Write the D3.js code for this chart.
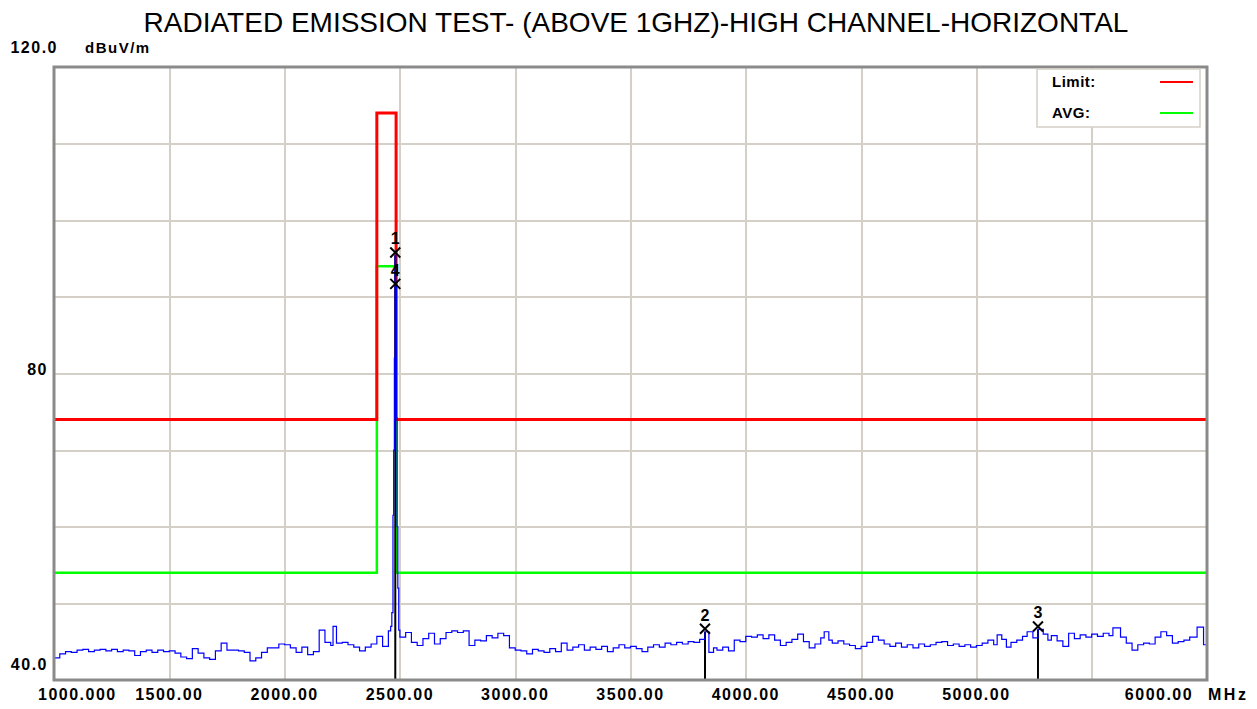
<!DOCTYPE html>
<html>
  <head>
    <meta charset="utf-8">
    <script type="text/javascript" src="https://cdn.jsdelivr.net/npm/d3@7"></script>
    <style type="text/css">
      body {
        margin: 0;
        background: #ffffff;
      }
      .title {
        font-family: "Liberation Sans", Arial, sans-serif;
        font-size: 28px;
      }
      .lbl {
        font-family: "Liberation Sans", Arial, sans-serif;
        font-weight: bold;
        font-size: 16px;
        letter-spacing: 1.5px;
        fill: #000000;
      }
      .grid line {
        stroke: #d4d0c8;
        stroke-width: 2px;
        shape-rendering: crispEdges;
      }
      .grid path {
        display: none;
      }
    </style>
  </head>
  <body>
    <script type="text/javascript">
      // x tick values and labels (MHz)
      var xTicks = [1000, 1500, 2000, 2500, 3000, 3500, 4000, 4500, 5000, 6000];
      var xTickLabels = ["1000.000", "1500.00", "2000.00", "2500.00", "3000.00", "3500.00", "4000.00", "4500.00", "5000.00", "6000.00"];

      // y labels (dBuV/m)
      var yTicks = [120, 80, 40];
      var yTickLabels = ["120.0", "80", "40.0"];

      // limit lines
      var limitFreq = [1000, 2400, 2400, 2483.5, 2483.5, 6000];
      var limitPeak = [74, 74, 114, 114, 74, 74];
      var limitAvg = [54, 54, 94, 94, 54, 54];

      // measured trace
      var traceFreq = [1000, 1025, 1050, 1075, 1100, 1125, 1150, 1175, 1200, 1225, 1250, 1275, 1300, 1325, 1350, 1375, 1400, 1425, 1450, 1475, 1500,
        1525, 1550, 1575, 1600, 1625, 1650, 1675, 1700, 1725, 1750, 1775, 1800, 1825, 1850, 1875, 1900, 1925, 1950, 1975, 2000,
        2025, 2050, 2075, 2100, 2125, 2150, 2175, 2200, 2210, 2225, 2250, 2275, 2300, 2325, 2350, 2375, 2400, 2425, 2450, 2460, 2465, 2470, 2473, 2476, 2479, 2482, 2485, 2488, 2491, 2495,
        2500, 2525, 2550, 2575, 2600, 2625, 2650, 2675, 2700, 2725, 2750, 2775, 2800, 2825, 2850, 2875, 2900, 2925, 2950, 2975, 3000,
        3025, 3050, 3075, 3100, 3125, 3150, 3175, 3200, 3225, 3250, 3275, 3300, 3325, 3350, 3375, 3400, 3425, 3450, 3475, 3500,
        3525, 3550, 3575, 3600, 3625, 3650, 3675, 3700, 3725, 3750, 3775, 3800, 3823, 3840, 3860, 3875, 3900, 3925, 3950, 3975, 4000,
        4025, 4050, 4075, 4100, 4125, 4150, 4175, 4200, 4225, 4250, 4275, 4300, 4325, 4340, 4360, 4375, 4400, 4425, 4450, 4475, 4500,
        4525, 4550, 4575, 4600, 4625, 4650, 4675, 4700, 4725, 4750, 4775, 4800, 4825, 4850, 4875, 4900, 4925, 4950, 4975, 5000,
        5025, 5050, 5075, 5090, 5110, 5130, 5150, 5175, 5200, 5220, 5245, 5267, 5290, 5310, 5325, 5350, 5375, 5400, 5425, 5450, 5475, 5500,
        5525, 5550, 5575, 5592, 5625, 5650, 5675, 5700, 5725, 5750, 5775, 5800, 5825, 5850, 5875, 5900, 5925, 5957, 5985, 6000];
      var traceLevel = [42.9, 43.4, 43.7, 43.6, 43.9, 44.0, 43.7, 43.9, 44.0, 43.8, 44.0, 43.7, 43.9, 43.8, 43.2, 43.7, 43.9, 43.6, 43.9, 43.7, 43.8,
        43.5, 43.0, 42.8, 44.1, 43.5, 42.9, 42.7, 43.8, 44.8, 43.9, 43.9, 43.8, 43.6, 42.5, 42.9, 43.6, 44.2, 44.2, 44.7, 44.6,
        44.2, 43.6, 44.3, 43.3, 43.7, 46.5, 44.9, 44.5, 47.0, 44.8, 44.9, 44.6, 44.3, 43.8, 44.3, 44.7, 45.7, 44.4, 46.4, 47.0, 48.8, 61.5, 70.0, 82.0, 95.4, 91.3, 74.2, 60.0, 52.0, 46.5,
        45.6, 46.2, 44.9, 44.5, 45.4, 46.1, 44.7, 45.4, 46.2, 46.4, 46.2, 46.4, 44.5, 45.2, 45.1, 45.8, 45.5, 46.1, 45.8, 44.2, 43.9,
        43.8, 43.4, 44.0, 43.8, 43.6, 44.1, 43.7, 44.8, 43.9, 44.3, 44.6, 43.9, 44.3, 44.0, 44.4, 43.7, 44.2, 44.6, 44.2, 44.4,
        44.1, 43.7, 44.3, 44.6, 44.3, 44.8, 44.6, 44.9, 44.7, 45.0, 44.9, 45.3, 46.3, 43.6, 44.2, 43.9, 44.3, 43.8, 45.2, 45.0, 45.7,
        45.6, 45.9, 45.4, 45.9, 45.2, 44.5, 44.9, 45.3, 46.0, 45.0, 44.2, 44.7, 45.5, 46.3, 45.2, 44.8, 45.1, 44.7, 44.5, 44.1, 44.4,
        44.9, 45.7, 45.2, 44.7, 44.4, 44.8, 44.3, 44.6, 44.2, 44.7, 44.4, 44.6, 44.9, 45.0, 44.5, 44.7, 44.4, 44.6, 44.3, 44.5,
        44.8, 45.2, 44.6, 45.9, 45.3, 44.3, 44.9, 45.2, 45.7, 46.3, 45.5, 46.6, 46.0, 45.2, 45.8, 45.1, 44.4, 46.1, 45.4, 45.9, 45.6, 46.0,
        45.7, 46.1, 45.8, 46.8, 45.6, 44.8, 43.9, 44.6, 44.8, 44.7, 45.6, 46.3, 45.8, 44.8, 45.0, 45.2, 45.6, 46.9, 44.6, 44.8];

      // markers
      var markerNo = ["1", "2", "3", "4"];
      var markerFreq = [2480, 3823, 5267, 2480];
      var markerLevel = [95.4, 46.3, 46.6, 91.3];

      // legend
      var legendNames = ["Limit:", "AVG:"];
      var legendColors = ["#ff0000", "#00ff00"];

      // sizes
      var svgWidth = 1257;
      var svgHeight = 709;
      var plotLeft = 54, plotRight = 1207, plotTop = 67, plotBottom = 680;

      var svg = d3.select("body")
        .append("svg")
        .attr("width", svgWidth)
        .attr("height", svgHeight);

      var xScale = d3.scaleLinear()
        .domain([1000, 6000])
        .range([plotLeft, plotRight]);

      var yScale = d3.scaleLinear()
        .domain([40, 120])
        .range([plotBottom, plotTop]);

      // grid lines
      svg.append("g")
        .attr("class", "grid")
        .attr("transform", "translate(0," + plotBottom + ")")
        .call(d3.axisBottom(xScale).tickValues(d3.range(1500, 6000, 500)).tickSize(-(plotBottom - plotTop)).tickFormat(""));

      svg.append("g")
        .attr("class", "grid")
        .attr("transform", "translate(" + plotLeft + ",0)")
        .call(d3.axisLeft(yScale).tickValues(d3.range(50, 120, 10)).tickSize(-(plotRight - plotLeft)).tickFormat(""));

      // title
      svg.append("text")
        .attr("class", "title")
        .attr("x", 636)
        .attr("y", 32)
        .attr("text-anchor", "middle")
        .text("RADIATED EMISSION TEST- (ABOVE 1GHZ)-HIGH CHANNEL-HORIZONTAL");

      // limit lines
      var limitLine = function(vals) {
        return d3.line()
          .x(function(d, i) { return xScale(limitFreq[i]); })
          .y(function(d) { return yScale(d); })(vals);
      };

      svg.append("path")
        .attr("d", limitLine(limitAvg))
        .attr("fill", "none")
        .attr("stroke", "#00ff00")
        .attr("stroke-width", 2.5);

      svg.append("path")
        .attr("d", limitLine(limitPeak))
        .attr("fill", "none")
        .attr("stroke", "#ff0000")
        .attr("stroke-width", 3);

      // marker lines to the bottom
      svg.selectAll(".mline")
        .data(markerNo.slice(0, 3))
        .enter()
        .append("line")
        .attr("class", "mline")
        .attr("x1", function(d, i) { return xScale(markerFreq[i]); })
        .attr("x2", function(d, i) { return xScale(markerFreq[i]); })
        .attr("y1", function(d, i) { return yScale(markerLevel[i]); })
        .attr("y2", plotBottom)
        .attr("stroke", "#000000")
        .attr("stroke-width", 2);

      // trace
      var trace = d3.line()
        .x(function(d, i) { return xScale(traceFreq[i]); })
        .y(function(d) { return yScale(d); })
        .curve(d3.curveStepAfter);

      svg.append("path")
        .attr("d", trace(traceLevel))
        .attr("fill", "none")
        .attr("stroke", "#0000ff")
        .attr("stroke-width", 1.2);

      // marker crosses and numbers
      markerNo.forEach(function(n, i) {
        var mx = xScale(markerFreq[i]);
        var my = yScale(markerLevel[i]) - 3;
        svg.append("path")
          .attr("d", "M" + (mx - 5) + "," + (my - 5) + "L" + (mx + 5) + "," + (my + 5) +
                     "M" + (mx + 5) + "," + (my - 5) + "L" + (mx - 5) + "," + (my + 5))
          .attr("stroke", "#000000")
          .attr("stroke-width", 2);
        svg.append("text")
          .attr("class", "lbl")
          .attr("x", mx)
          .attr("y", my - 8)
          .attr("text-anchor", "middle")
          .style("font-size", "16px")
          .style("letter-spacing", "0px")
          .text(n);
      });

      // frame
      svg.append("rect")
        .attr("x", plotLeft)
        .attr("y", plotTop)
        .attr("width", plotRight - plotLeft)
        .attr("height", plotBottom - plotTop)
        .attr("fill", "none")
        .attr("stroke", "#8a8a8a")
        .attr("stroke-width", 3);

      // x tick labels
      svg.selectAll(".xl")
        .data(xTicks)
        .enter()
        .append("text")
        .attr("class", "lbl")
        .attr("x", function(d, i) {
          if (i == 0) return 38;
          if (d == 6000) return xScale(d) - 48;
          return xScale(d);
        })
        .attr("y", 700)
        .attr("text-anchor", function(d, i) { return i == 0 ? "start" : "middle"; })
        .text(function(d, i) { return xTickLabels[i]; });

      svg.append("text")
        .attr("class", "lbl")
        .attr("x", 1208)
        .attr("y", 700)
        .style("letter-spacing", "2.5px")
        .text("MHz");

      // y labels
      var yOffsets = [-14, 1, -10];
      var yRight = [58, 48, 48];
      svg.selectAll(".yl")
        .data(yTicks)
        .enter()
        .append("text")
        .attr("class", "lbl")
        .attr("x", function(d, i) { return yRight[i]; })
        .attr("y", function(d, i) { return yScale(d) + yOffsets[i]; })
        .attr("text-anchor", "end")
        .text(function(d, i) { return yTickLabels[i]; });

      svg.append("text")
        .attr("class", "lbl")
        .attr("x", 85)
        .attr("y", 53)
        .style("font-size", "15px")
        .text("dBuV/m");

      // legend
      var legend = svg.append("g");
      legend.append("rect")
        .attr("x", 1037)
        .attr("y", 69)
        .attr("width", 163)
        .attr("height", 58)
        .attr("fill", "#ffffff")
        .attr("stroke", "#d4d0c8")
        .attr("stroke-width", 1.5);

      legendNames.forEach(function(name, i) {
        legend.append("text")
          .attr("class", "lbl")
          .attr("x", 1052)
          .attr("y", 87 + i * 31)
          .style("font-size", "15px")
          .style("letter-spacing", "0.5px")
          .text(name);
        legend.append("line")
          .attr("x1", 1160)
          .attr("x2", 1193)
          .attr("y1", 82 + i * 31)
          .attr("y2", 82 + i * 31)
          .attr("stroke", legendColors[i])
          .attr("stroke-width", 2);
      });
    </script>
  </body>
</html>
